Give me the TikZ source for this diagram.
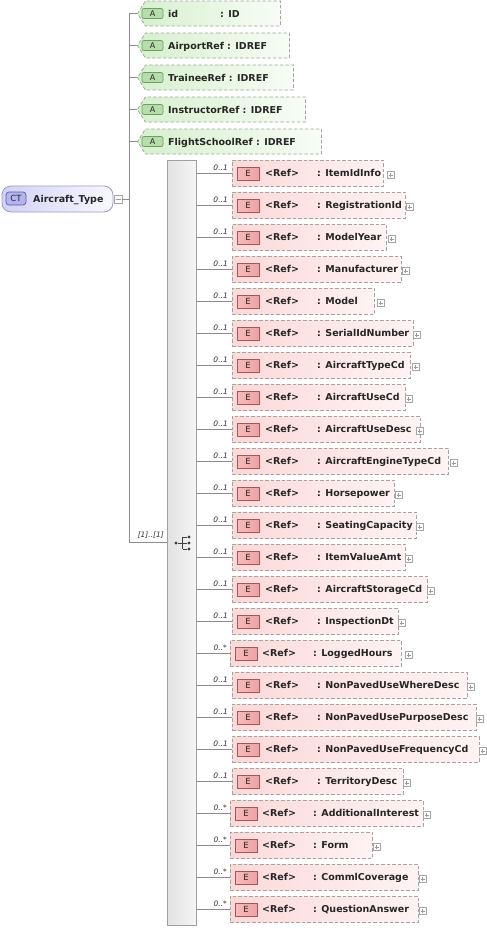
\documentclass[tikz,border=0pt]{standalone}
\usepackage{fontspec}
\setmainfont{DejaVu Sans}
\usetikzlibrary{shapes.symbols}
\definecolor{dashgray}{HTML}{A4A4A4}
\definecolor{linegray}{HTML}{8C8C8C}
\definecolor{pinkL}{HTML}{FBD9D9}
\definecolor{pinkR}{HTML}{FFF3F3}
\definecolor{eiconL}{HTML}{F5BCBC}
\definecolor{eiconR}{HTML}{EEA2A2}
\definecolor{eiconB}{HTML}{A85656}
\definecolor{greenL}{HTML}{D6F0CE}
\definecolor{greenR}{HTML}{F7FDF5}
\definecolor{aiconF}{HTML}{B6DEAC}
\definecolor{aiconB}{HTML}{6E9E64}
\definecolor{ctL}{HTML}{D2D2F6}
\definecolor{ctR}{HTML}{F8F8FF}
\definecolor{ctB}{HTML}{9C9CC4}
\definecolor{cticonF}{HTML}{B4B4EE}
\definecolor{cticonB}{HTML}{5C5CA0}
\definecolor{seqL}{HTML}{E2E2E2}
\definecolor{seqR}{HTML}{F5F5F5}
\definecolor{seqB}{HTML}{A0A0A0}
\definecolor{dotc}{HTML}{404040}
\tikzset{
  conn/.style={draw=linegray, line width=0.7pt},
  ebox/.style={rectangle, draw=dashgray, dash pattern=on 3.5pt off 2pt, line width=0.8pt,
    left color=pinkL, right color=pinkR, minimum height=26pt, inner sep=0pt, anchor=west},
  eicon/.style={rectangle, draw=eiconB, line width=0.7pt, left color=eiconL, right color=eiconR,
    minimum width=22pt, minimum height=13pt, inner sep=0pt,
    font=\fontsize{8.5}{9}\selectfont\mdseries, text=black!85},
  abox/.style={shape=signal, signal to=west, signal pointer angle=115, draw=dashgray,
    dash pattern=on 3.5pt off 2pt, line width=0.8pt, left color=greenL, right color=greenR,
    minimum height=25pt, inner sep=0pt, anchor=west},
  aicon/.style={rectangle, rounded corners=2pt, draw=aiconB, line width=0.7pt, fill=aiconF,
    minimum width=21pt, minimum height=10pt, inner sep=0pt,
    font=\fontsize{8}{9}\selectfont\mdseries, text=black!85},
  txt/.style={inner sep=0pt, anchor=base west, text=black!85, font=\fontsize{9.5}{11}\selectfont\bfseries},
  mult/.style={inner sep=0pt, anchor=base east, text=black!80, font=\fontsize{7.5}{9}\selectfont\itshape},
  pbox/.style={rectangle, draw=gray!70, line width=0.5pt, fill=white, minimum size=7pt, inner sep=0pt,
    path picture={\draw[gray!80, line width=0.5pt]
      ([xshift=1.5pt]path picture bounding box.west) -- ([xshift=-1.5pt]path picture bounding box.east)
      ([yshift=-1.5pt]path picture bounding box.north) -- ([yshift=1.5pt]path picture bounding box.south);}},
  mbox/.style={rectangle, draw=gray!70, line width=0.5pt, fill=white, minimum size=8pt, inner sep=0pt,
    path picture={\draw[gray!80, line width=0.5pt]
      ([xshift=1.5pt]path picture bounding box.west) -- ([xshift=-1.5pt]path picture bounding box.east);}},
  seqdot/.style={circle, fill=dotc, inner sep=0pt, minimum size=3.4pt},
}
\begin{document}
\begin{tikzpicture}[x=1pt, y=-1pt]
\useasboundingbox (0,0) rectangle (487,929);

% complex type
\node[rectangle, rounded corners=9pt, draw=ctB, line width=0.8pt, left color=ctL, right color=ctR,
  minimum width=111pt, minimum height=26pt, inner sep=0pt] (ct) at (57.5,199) {};
\node[rectangle, rounded corners=3pt, draw=cticonB, line width=0.7pt, fill=cticonF,
  minimum width=20pt, minimum height=13pt, inner sep=0pt, font=\fontsize{8.5}{9}\selectfont\mdseries,
  text=black!85] (cticon) at (16,198.5) {CT};
\node[txt] (ctname) at (33,202.5) {Aircraft\_Type};
\node[mbox] (minus) at (118,199.5) {};

% trunk
\coordinate (vtop) at (129,13.5);
\coordinate (vbot) at (129,542);
\draw[conn] (vtop) -- (vbot);
\draw[conn] (minus.east) -- (minus.east -| vtop);

% attributes
\foreach \nm/\r [count=\k from 0] in {id/280, AirportRef : IDREF/289, TraineeRef : IDREF/293,
    InstructorRef : IDREF/305, FlightSchoolRef : IDREF/321} {
  \pgfmathsetmacro{\yy}{13.5+32*\k}
  \pgfmathsetmacro{\w}{\r-137}
  \node[abox, minimum width=\w pt] (a\k) at (137,\yy) {};
  \draw[conn] (vtop |- a\k.west) -- (a\k.west);
  \node[aicon] (ai\k) at (152.5,\yy) {A};
  \node[txt] (at\k) at (168,\yy+3.5) {\nm};
}
\node[txt] (at0t) at (220,17) {: ID};

% sequence compositor
\node[rectangle, draw=seqB, line width=0.7pt, left color=seqL, right color=seqR,
  minimum width=29pt, minimum height=765pt, inner sep=0pt] (seq) at (181.5,542.5) {};
\draw[conn] (vbot) -- (vbot -| seq.west);
\node[mult] (seqmult) at (164,537.5) {[1]..[1]};
\node[seqdot] (sd0) at (176,543) {};
\coordinate (sj) at (182.5,543);
\node[seqdot] (sd1) at (189,537) {};
\node[seqdot] (sd2) at (189,543) {};
\node[seqdot] (sd3) at (189,549) {};
\draw[dotc, line width=0.8pt] (sd0) -- (sj) (sj |- sd1) -- (sj |- sd3)
  (sj |- sd1) -- (sd1) (sj) -- (sd2) (sj |- sd3) -- (sd3);

% elements
\foreach \nm/\t/\r/\px [count=\k from 0] in {
  ItemIdInfo/0/383/387, RegistrationId/0/405/406, ModelYear/0/386/388,
  Manufacturer/0/401/402, Model/0/374/377, SerialIdNumber/0/413/413,
  AircraftTypeCd/0/410/412, AircraftUseCd/0/405/405, AircraftUseDesc/0/420/416,
  AircraftEngineTypeCd/0/448/450, Horsepower/0/394/395, SeatingCapacity/0/416/416,
  ItemValueAmt/0/405/405, AircraftStorageCd/0/427/427, InspectionDt/0/398/398,
  LoggedHours/1/401/405, NonPavedUseWhereDesc/0/467/467, NonPavedUsePurposeDesc/0/476/476,
  NonPavedUseFrequencyCd/0/479/479, TerritoryDesc/0/403/403, AdditionalInterest/1/423/423,
  Form/1/372/373, CommlCoverage/1/418/419, QuestionAnswer/1/418/419} {
  \pgfmathsetmacro{\yy}{173+32*\k}
  \pgfmathsetmacro{\lx}{232-2*\t}
  \pgfmathsetmacro{\w}{\r-\lx}
  \pgfmathsetmacro{\nx}{317-4*\t}
  \node[ebox, minimum width=\w pt] (e\k) at (\lx,\yy) {};
  \draw[conn] (seq.east |- e\k.west) -- (e\k.west);
  \node[eicon] (ei\k) at (\lx+16,\yy+0.5) {E};
  \node[txt] (er\k) at (\lx+33-\t,\yy+3) {<Ref>};
  \node[txt] (en\k) at (\nx,\yy+3) {: \nm};
  \node[pbox] (p\k) at (\px+3.5,\yy+2) {};
  \ifnum\t=0
    \node[mult] (m\k) at (228,\yy-3) {0..1};
  \else
    \node[mult] (m\k) at (227,\yy-3) {0..*};
  \fi
}
\end{tikzpicture}
\end{document}
